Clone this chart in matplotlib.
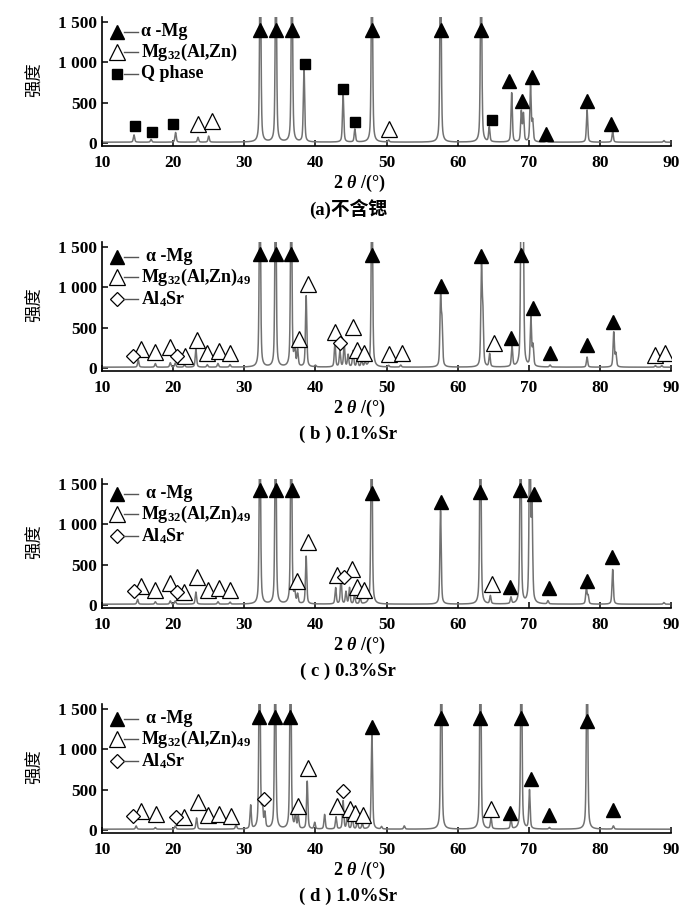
import numpy as np
import matplotlib
matplotlib.use('Agg')
import matplotlib.pyplot as plt

plt.rcParams['font.family'] = ['Liberation Serif', 'Noto Sans CJK SC']
plt.rcParams['font.weight'] = 'bold'
plt.rcParams['mathtext.fontset'] = 'custom'
plt.rcParams['mathtext.rm'] = 'Liberation Serif:bold'
plt.rcParams['mathtext.it'] = 'Liberation Serif:italic:bold'
plt.rcParams['mathtext.bf'] = 'Liberation Serif:bold'

# ---------------- data ----------------
x_ticks = [10, 20, 30, 40, 50, 60, 70, 80, 90]
y_ticks = [0, 500, 1000, 1500]
y_tick_labels = ['0', '500', '1 000', '1 500']
captions = ['(a)不含锶', '( b ) 0.1%Sr', '( c ) 0.3%Sr', '( d ) 1.0%Sr']
y_label = '强度'

# panel a: peaks
a_peak_pos = [14.5, 16.9, 20.35, 23.5, 25.0, 32.25, 34.45, 36.7, 38.4, 43.9, 45.55, 47.95,
              50.3, 57.6, 63.3, 64.45, 67.6, 68.95, 69.25, 70.25, 70.55, 72.5, 78.2, 81.8, 89.0]
a_peak_int = [90, 35, 120, 60, 75, 2500, 2500, 2500, 940, 590, 160, 2500,
              25, 2500, 2500, 180, 610, 370, 340, 690, 250, 25, 400, 130, 20]
a_mg_x = [32.25, 34.45, 36.7, 47.95, 57.6, 63.3, 67.2, 69.1, 70.45, 72.4, 78.2, 81.6]
a_mg_y = [1400, 1400, 1400, 1400, 1400, 1400, 770, 525, 815, 110, 520, 230]
a_t_x = [23.5, 25.4, 50.3]
a_t_y = [235, 275, 170]
a_q_x = [14.7, 17.1, 20.0, 38.5, 43.85, 45.6, 64.8]
a_q_y = [215, 140, 235, 980, 670, 265, 285]

# panel b
b_peak_pos = [15.1, 17.5, 19.6, 20.3, 21.6, 23.2, 24.8, 26.3, 28.0, 32.2, 34.4, 36.6, 37.1, 37.5,
              38.7, 40.0, 42.75, 43.45, 44.05, 44.6, 45.3, 45.9, 46.5, 47.0, 47.95, 50.3, 52.0,
              57.6, 57.8, 63.35, 63.55, 64.5, 67.65, 68.95, 69.2, 70.3, 70.6, 73.0, 78.2,
              81.95, 82.25, 87.8, 88.7]
b_peak_int = [90, 45, 55, 50, 30, 230, 30, 45, 30, 2500, 2500, 2500, 240, 200,
              880, 20, 300, 200, 280, 150, 200, 120, 80, 60, 2500, 20, 25,
              820, 500, 1180, 600, 160, 260, 2500, 2000, 600, 250, 25, 125,
              430, 160, 20, 20]
b_mg_x = [32.2, 34.4, 36.6, 47.95, 57.6, 63.3, 67.5, 68.95, 70.6, 73.05, 78.25, 81.8]
b_mg_y = [1410, 1410, 1410, 1400, 1015, 1392, 375, 1400, 740, 190, 285, 574]
b_t_x = [15.45, 17.5, 19.5, 21.7, 23.4, 24.8, 26.4, 28.0, 37.65, 38.9, 42.75, 45.25,
         45.9, 46.9, 50.3, 52.2, 65.1, 87.7, 89.1]
b_t_y = [235, 195, 265, 153, 347, 180, 205, 185, 355, 1037, 450, 512,
         223, 182, 173, 185, 305, 160, 180]
b_d_x = [14.3, 20.5, 43.4]
b_d_y = [153, 153, 315]

# panel c
c_peak_pos = [15.0, 17.5, 19.6, 20.3, 23.2, 26.3, 28.0, 32.2, 34.4, 36.6, 37.1, 37.5, 38.7,
              42.85, 43.6, 44.3, 44.8, 45.5, 46.3, 47.9, 57.6, 63.2, 64.6, 67.5, 68.85,
              70.15, 70.45, 72.7, 78.1, 78.35, 81.8, 89.0]
c_peak_int = [60, 30, 40, 40, 150, 30, 25, 2500, 2500, 2500, 130, 110, 590,
              200, 330, 150, 200, 120, 80, 2500, 1160, 2500, 100, 80, 2500,
              2500, 1200, 40, 210, 100, 430, 20]
c_mg_x = [32.2, 34.4, 36.7, 47.9, 57.6, 63.2, 67.3, 68.8, 70.7, 72.9, 78.2, 81.7]
c_mg_y = [1420, 1420, 1420, 1393, 1282, 1400, 218, 1422, 1373, 205, 295, 594]
c_t_x = [15.5, 17.5, 19.6, 21.55, 23.4, 24.97, 26.5, 28.0, 37.45, 38.95, 43.07, 45.2, 45.9, 46.8, 64.8]
c_t_y = [234, 184, 274, 164, 348, 180, 215, 180, 295, 787, 369, 451, 225, 184, 266]
c_d_x = [14.45, 20.5, 44.0]
c_d_y = [172, 164, 348]

# panel d
d_peak_pos = [14.8, 17.5, 20.3, 23.3, 28.85, 30.9, 32.15, 32.55, 32.9, 34.35, 36.5, 37.2, 37.6,
              38.85, 39.9, 41.3, 42.9, 43.9, 44.5, 45.2, 45.9, 46.6, 47.95, 49.3, 52.5,
              57.7, 63.2, 64.7, 67.5, 68.95, 70.1, 72.9, 78.2, 81.9]
d_peak_int = [40, 20, 40, 140, 60, 290, 2500, 250, 180, 2500, 2500, 180, 150,
              590, 80, 180, 150, 350, 200, 160, 100, 70, 1180, 30, 40,
              2500, 2500, 140, 120, 2500, 480, 20, 2500, 40]
d_mg_x = [32.1, 34.35, 36.5, 48.0, 57.7, 63.2, 67.3, 68.95, 70.25, 72.9, 78.2, 81.8]
d_mg_y = [1406, 1406, 1406, 1283, 1394, 1394, 212, 1394, 632, 183, 1353, 253]
d_t_x = [15.5, 17.6, 21.55, 23.5, 24.97, 26.5, 28.1, 37.55, 38.95, 43.1, 44.8, 45.6, 46.7, 64.7]
d_t_y = [236, 196, 155, 346, 183, 204, 171, 293, 774, 293, 265, 212, 183, 265]
d_d_x = [14.4, 20.4, 32.8, 43.9]
d_d_y = [171, 163, 385, 489]

panels = [
    dict(pos=a_peak_pos, inten=a_peak_int, mg=(a_mg_x, a_mg_y), tri=(a_t_x, a_t_y),
         third=(a_q_x, a_q_y), third_kind='Q', z0=143),
    dict(pos=b_peak_pos, inten=b_peak_int, mg=(b_mg_x, b_mg_y), tri=(b_t_x, b_t_y),
         third=(b_d_x, b_d_y), third_kind='Sr', z0=368),
    dict(pos=c_peak_pos, inten=c_peak_int, mg=(c_mg_x, c_mg_y), tri=(c_t_x, c_t_y),
         third=(c_d_x, c_d_y), third_kind='Sr', z0=605),
    dict(pos=d_peak_pos, inten=d_peak_int, mg=(d_mg_x, d_mg_y), tri=(d_t_x, d_t_y),
         third=(d_d_x, d_d_y), third_kind='Sr', z0=830),
]

# ---------------- figure ----------------
W, H = 700, 915
fig = plt.figure(figsize=(W / 100, H / 100), dpi=100)

LEFT, RIGHT = 102, 671
YMIN, YMAX = -40, 1562
PX_PER_UNIT = 121.0 / 1500.0
AX_H = (YMAX - YMIN) * PX_PER_UNIT

xx = np.arange(10.0, 89.8, 0.005)
FWHM = 0.22
ETA = 0.5
BASE = 10
TRACE = '#727272'

def profile(pos, inten):
    y = np.full_like(xx, BASE, dtype=float)
    hw = FWHM / 2
    for p, h in zip(pos, inten):
        d = (xx - p) / hw
        y += h * (ETA / (1 + d ** 2) + (1 - ETA) * np.exp(-np.log(2) * d ** 2))
    return y

TICK_FS = 12.5
for i, pnl in enumerate(panels):
    z0 = pnl['z0']
    bottom_px = z0 + (-YMIN) * PX_PER_UNIT
    ax = fig.add_axes([LEFT / W, 1 - bottom_px / H, (RIGHT - LEFT) / W, AX_H / H])
    ax.plot(xx, profile(pnl['pos'], pnl['inten']), color=TRACE, lw=1.1, zorder=2)
    ax.set_xlim(10, 90)
    ax.set_ylim(YMIN, YMAX)
    ax.set_xticks(x_ticks)
    ax.set_yticks(y_ticks)
    ax.set_yticklabels(y_tick_labels)
    for s in ['top', 'right']:
        ax.spines[s].set_visible(False)
    for s in ['left', 'bottom']:
        ax.spines[s].set_linewidth(1.2)
    ax.tick_params(direction='in', length=4, width=1.1, labelsize=TICK_FS)
    ax.tick_params(axis='x', pad=6)
    ax.tick_params(axis='y', pad=3.5)
    for lab in ax.get_xticklabels() + ax.get_yticklabels():
        lab.set_fontweight('bold')

    mx, my = pnl['mg']
    ax.plot(mx, my, ls='none', marker='^', ms=10.5, color='black', zorder=4)
    tx, ty = pnl['tri']
    ax.plot(tx, ty, ls='none', marker='^', ms=11, mfc='white', mec='black', mew=0.9, zorder=4)
    qx, qy = pnl['third']
    if pnl['third_kind'] == 'Q':
        ax.plot(qx, qy, ls='none', marker='s', ms=7, color='black', zorder=4)
    else:
        ax.plot(qx, qy, ls='none', marker='D', ms=6.8, mfc='white', mec='black', mew=0.9, zorder=4)

    # legend (manual, marker then dash then text)
    rows_px = [14.7, 35, 57]
    mxf = (117 - LEFT) / (RIGHT - LEFT)
    l1 = (124 - LEFT) / (RIGHT - LEFT)
    l2 = (138 - LEFT) / (RIGHT - LEFT)
    txf = (141 - LEFT) / (RIGHT - LEFT)
    if i == 0:
        labels = ['α -Mg', r'Mg$_{\mathrm{32}}$(Al,Zn)', 'Q phase']
    else:
        labels = ['α -Mg', r'Mg$_{\mathrm{32}}$(Al,Zn)$_{\mathrm{49}}$', r'Al$_{\mathrm{4}}$Sr']
    styles = [dict(marker='^', ms=10.5, color='black'),
              dict(marker='^', ms=11, mfc='white', mec='black', mew=0.9)]
    if i == 0:
        styles.append(dict(marker='s', ms=7, color='black'))
    else:
        styles.append(dict(marker='D', ms=6.8, mfc='white', mec='black', mew=0.9))
    for k, (r, lab, st) in enumerate(zip(rows_px, labels, styles)):
        yf = 1 - r / AX_H
        ax.plot([mxf], [yf], transform=ax.transAxes, ls='none', clip_on=False, zorder=5, **st)
        ax.plot([l1, l2], [yf, yf], transform=ax.transAxes, color='#555555', lw=1.0,
                clip_on=False, zorder=5)
        xt = txf + (0.008 if (k == 0 and i > 0) else 0.0)
        ax.text(xt, yf, lab, transform=ax.transAxes, va='center', ha='left',
                fontsize=13, fontweight='bold', zorder=5)

    # y label
    fig.text(35 / W, 1 - (z0 - 63) / H, y_label, rotation=90, ha='center', va='center',
             fontsize=12.5, fontweight='normal', family=['Noto Sans CJK SC', 'DejaVu Sans'])
    # x label
    fig.text(359 / W, 1 - (z0 + 40) / H, r'2 $\mathit{\theta}$ /(°)', ha='center', va='center',
             fontsize=13, fontweight='bold')
    # caption
    fig.text(348 / W, 1 - (z0 + 66) / H, captions[i], ha='center', va='center',
             fontsize=13.5, fontweight='bold',
             family=['Liberation Serif', 'Noto Sans CJK SC'])

fig.savefig('out.png', dpi=100)
